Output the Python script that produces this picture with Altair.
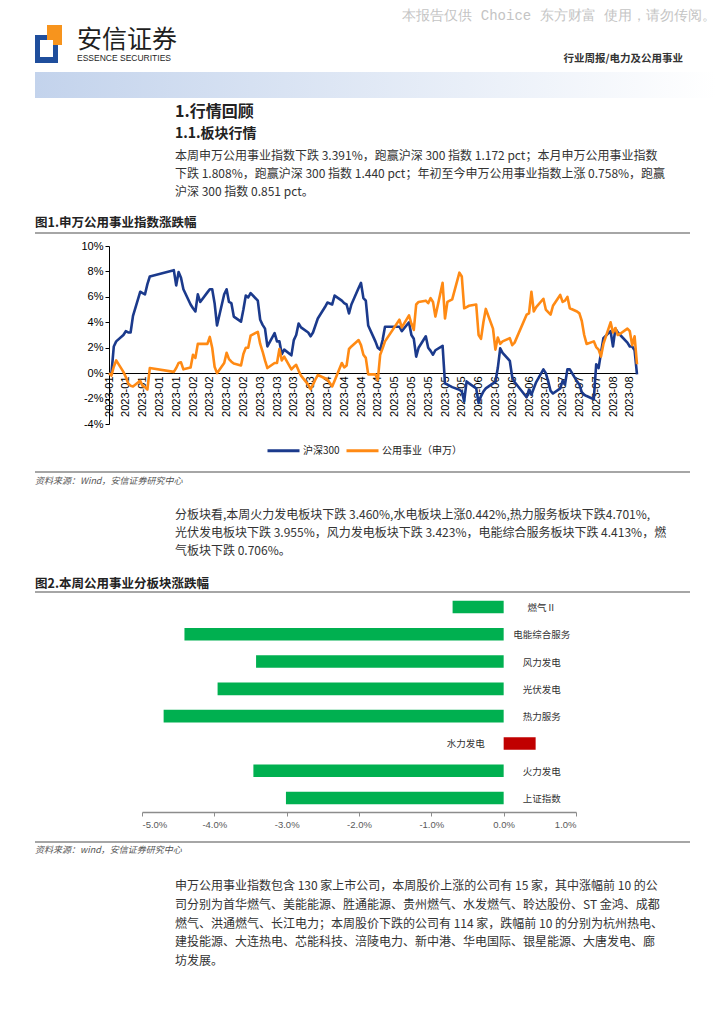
import altair as alt
import pandas as pd

CJK = "Noto Sans CJK SC"
LAT = "Liberation Sans"

# ---------------- line chart data ----------------
dates = [
    "2023-01-03", "2023-01-04", "2023-01-05", "2023-01-06", "2023-01-09", "2023-01-10", "2023-01-11",
    "2023-01-12", "2023-01-13", "2023-01-16", "2023-01-17", "2023-01-18", "2023-01-19", "2023-01-20",
    "2023-01-30", "2023-01-31", "2023-02-01", "2023-02-02", "2023-02-03", "2023-02-06", "2023-02-07",
    "2023-02-08", "2023-02-09", "2023-02-10", "2023-02-13", "2023-02-14", "2023-02-15", "2023-02-16",
    "2023-02-17", "2023-02-20", "2023-02-21", "2023-02-22", "2023-02-23", "2023-02-24", "2023-02-27",
    "2023-02-28", "2023-03-01", "2023-03-02", "2023-03-03", "2023-03-06", "2023-03-07", "2023-03-08",
    "2023-03-09", "2023-03-10", "2023-03-13", "2023-03-14", "2023-03-15", "2023-03-16", "2023-03-17",
    "2023-03-20", "2023-03-21", "2023-03-22", "2023-03-23", "2023-03-24", "2023-03-27", "2023-03-28",
    "2023-03-29", "2023-03-30", "2023-03-31", "2023-04-03", "2023-04-04", "2023-04-06", "2023-04-07",
    "2023-04-10", "2023-04-11", "2023-04-12", "2023-04-13", "2023-04-14", "2023-04-17", "2023-04-18",
    "2023-04-19", "2023-04-20", "2023-04-21", "2023-04-24", "2023-04-25", "2023-04-26", "2023-04-27",
    "2023-04-28", "2023-05-04", "2023-05-05", "2023-05-08", "2023-05-09", "2023-05-10", "2023-05-11",
    "2023-05-12", "2023-05-15", "2023-05-16", "2023-05-17", "2023-05-18", "2023-05-19", "2023-05-22",
    "2023-05-23", "2023-05-24", "2023-05-25", "2023-05-26", "2023-05-29", "2023-05-30", "2023-05-31",
    "2023-06-01", "2023-06-02", "2023-06-05", "2023-06-06", "2023-06-07", "2023-06-08", "2023-06-09",
    "2023-06-12", "2023-06-13", "2023-06-14", "2023-06-15", "2023-06-16", "2023-06-19", "2023-06-20",
    "2023-06-21", "2023-06-26", "2023-06-27", "2023-06-28", "2023-06-29", "2023-06-30", "2023-07-03",
    "2023-07-04", "2023-07-05", "2023-07-06", "2023-07-07", "2023-07-10", "2023-07-11", "2023-07-12",
    "2023-07-13", "2023-07-14", "2023-07-17", "2023-07-18", "2023-07-19", "2023-07-20", "2023-07-21",
    "2023-07-24", "2023-07-25", "2023-07-26", "2023-07-27", "2023-07-28", "2023-07-31", "2023-08-01",
    "2023-08-02", "2023-08-03", "2023-08-04", "2023-08-07", "2023-08-08", "2023-08-09", "2023-08-10",
    "2023-08-11",
]
hs300 = [
    0.0, -0.05, 2.1, 2.5, 3.0, 3.3, 3.2,
    3.2, 4.5, 6.4, 6.3, 6.2, 7.0, 7.6,
    8.1, 6.9, 7.95, 7.5, 6.6, 5.4, 5.1,
    4.85, 6.2, 5.6, 6.35, 6.6, 6.6, 5.5,
    3.75, 6.2, 6.6, 5.6, 5.5, 4.45, 4.05,
    5.0, 6.1, 5.95, 6.3, 5.7, 4.2, 3.8,
    3.5, 2.1, 3.15, 2.5, 2.5, 1.5, 1.85,
    1.4, 2.6, 3.0, 3.9, 3.6, 3.2, 2.9,
    3.2, 3.75, 4.3, 5.2, 5.55, 5.4, 6.1,
    5.7, 5.5, 5.4, 4.7, 5.4, 6.7, 7.1,
    5.9, 5.7, 3.75, 2.5, 2.0, 1.85, 2.6,
    3.65, 3.65, 3.3, 4.0, 3.0, 2.7, 1.3,
    2.0, 2.9, 2.0, 1.75, 1.45, 1.8, 2.15,
    -0.8, -0.9, -1.0, -1.1, -1.3, -1.45, -2.2,
    -0.65, -0.8, -1.2, -2.35, -1.8, -1.45, -1.2,
    -0.8, -0.7, 0.4, 1.95, 1.6, 0.97, -0.3,
    -0.7, -1.9, -1.3, -1.7, -1.2, -0.7, 0.3,
    0.0, -0.65, -1.4, -1.6, -1.2, -0.6, -0.9,
    0.3, 0.3, -0.65, -0.9, -1.5, -1.7, -1.8,
    -2.05, 0.7, 0.4, 1.6, 2.75, 3.3, 2.1,
    3.5, 3.2, 3.0, 2.4, 2.1, 2.1, 1.8,
    -0.1,
]
utility = [
    0.0, -0.2, 0.5, 1.0, 0.1, -0.3, -0.8,
    -1.0, -1.05, -0.6, -1.0, -1.1, -1.3, 0.4,
    0.1, 0.4, 0.8, 0.85, 0.3, 0.45, 1.45,
    1.2, 2.3, 2.3, 2.3, 2.85, 2.0, 0.5,
    0.0, 0.8, 1.6, 1.1, 0.9, 0.75, 0.6,
    1.5, 2.0, 2.0, 2.95, 3.25, 2.3, 1.7,
    1.0, 0.4, 0.8, 0.8, 1.9, 1.0, 1.3,
    0.3, 0.5, 0.65, 0.2, -0.2, -0.9, -1.25,
    -0.9, -0.5, -0.15, -0.4, -0.5, -1.05, -0.6,
    0.8, 0.45, 0.6, 1.9, 2.1, 2.6, 2.2,
    1.45, 1.2, -0.1, -0.1, -0.55, 1.45, 1.95,
    2.5, 4.2, 3.6, 4.55, 3.9, 3.4, 5.4,
    5.6, 5.7, 5.5, 5.9, 5.6, 4.45, 7.1,
    4.3, 5.6, 5.7, 5.8, 7.9, 7.6, 5.1,
    5.2, 5.3, 5.4, 3.0, 2.7, 4.0, 5.05,
    3.5, 1.85, 2.8, 2.3, 2.5, 2.75, 2.2,
    2.4, 4.6, 4.7, 6.4, 4.85, 5.2, 5.85,
    5.0, 4.8, 4.6, 5.3, 6.15, 5.6, 5.7,
    6.0, 5.1, 4.85, 4.7, 4.1, 3.0, 2.3,
    2.5, 2.05, 1.85, 1.3, 2.3, 4.0, 3.2,
    3.55, 3.0, 3.1, 3.5, 3.3, 2.2, 2.9,
    0.7,
]
series_names = ["沪深300", "公用事业（申万）"]
series_colors = ["#1B3A8C", "#FF8A14"]
tick_dates = [
    "2023-01-03", "2023-01-10", "2023-01-17", "2023-01-24", "2023-01-31",
    "2023-02-07", "2023-02-14", "2023-02-21", "2023-02-28",
    "2023-03-07", "2023-03-14", "2023-03-21", "2023-03-28",
    "2023-04-04", "2023-04-11", "2023-04-18", "2023-04-25",
    "2023-05-02", "2023-05-09", "2023-05-16", "2023-05-23", "2023-05-30",
    "2023-06-06", "2023-06-13", "2023-06-20", "2023-06-27",
    "2023-07-04", "2023-07-11", "2023-07-18", "2023-07-25",
    "2023-08-01", "2023-08-08",
]
y_ticks = [-4, -2, 0, 2, 4, 6, 8, 10]

# ---------------- bar chart data ----------------
sectors = ["燃气Ⅱ", "电能综合服务", "风力发电", "光伏发电", "热力服务", "水力发电", "火力发电", "上证指数"]
changes = [-0.706, -4.413, -3.423, -3.955, -4.701, 0.442, -3.460, -3.01]
bar_ticks = [-5, -4, -3, -2, -1, 0, 1]

# ---------------- page text ----------------
para1 = [
    "本周申万公用事业指数下跌 3.391%，跑赢沪深 300 指数 1.172 pct；本月申万公用事业指数",
    "下跌 1.808%，跑赢沪深 300 指数 1.440 pct；年初至今申万公用事业指数上涨 0.758%，跑赢",
    "沪深 300 指数 0.851 pct。",
]
para2 = [
    "分板块看,本周火力发电板块下跌 3.460%,水电板块上涨0.442%,热力服务板块下跌4.701%,",
    "光伏发电板块下跌 3.955%，风力发电板块下跌 3.423%，电能综合服务板块下跌 4.413%，燃",
    "气板块下跌 0.706%。",
]
para3 = [
    "申万公用事业指数包含 130 家上市公司，本周股价上涨的公司有 15 家，其中涨幅前 10 的公",
    "司分别为首华燃气、美能能源、胜通能源、贵州燃气、水发燃气、聆达股份、ST 金鸿、成都",
    "燃气、洪通燃气、长江电力；本周股价下跌的公司有 114 家，跌幅前 10 的分别为杭州热电、",
    "建投能源、大连热电、芯能科技、涪陵电力、新中港、华电国际、银星能源、大唐发电、廊",
    "坊发展。",
]

W = 708
dummy = pd.DataFrame({"k": [0]})


def dt(s):
    y, m, d = s.split("-")
    return alt.DateTime(year=int(y), month=int(m), date=int(d), utc=True)


def txt(x, y, s, size=12, weight="normal", color="#333333", align="left", font=CJK, style="normal"):
    return alt.Chart().mark_text(
        align=align, baseline="middle", fontSize=size, fontWeight=weight, color=color,
        font=font, fontStyle=style,
    ).encode(x=alt.value(x), y=alt.value(y), text=alt.value(s))


def rect(x, x2, y, y2, color):
    return alt.Chart().mark_rect(color=color).encode(
        x=alt.value(x), x2=alt.value(x2), y=alt.value(y), y2=alt.value(y2))


def hrule(x, x2, y, color="#a6a6a6", w=2):
    return alt.Chart().mark_rule(color=color, strokeWidth=w).encode(
        x=alt.value(x), x2=alt.value(x2), y=alt.value(y))


# ---------------- panel 1: header ----------------
grad = alt.LinearGradient(
    gradient="linear",
    stops=[alt.GradientStop(color="#c3d3ec", offset=0), alt.GradientStop(color="#ffffff", offset=1)],
    x1=0, x2=1, y1=0, y2=0,
)
p1_items = [
    txt(708, 8, "本报告仅供 Choice 东方财富 使用，请勿传阅。", size=14, color="#c4c4c4", align="right",
        font="Liberation Mono"),
    rect(27, 50, 27, 55, "#1f4e9c"),
    rect(32, 45, 32, 49, "#ffffff"),
    rect(39, 54, 17, 37, "#f7941d"),
    rect(39, 45, 32, 37, "#ffffff"),
    txt(69, 32, "安信证券", size=25, color="#1e1e1e"),
    txt(69, 50, "ESSENCE SECURITIES", size=8.5, color="#1e1e1e", font=LAT),
    txt(675, 51, "行业周报/电力及公用事业", size=10.5, weight="bold", color="#333333", align="right"),
    alt.Chart().mark_rect(color=grad).encode(
        x=alt.value(27), x2=alt.value(708), y=alt.value(64), y2=alt.value(90)),
    txt(167, 104, "1.行情回顾", size=16, weight="bold", color="#222222"),
    txt(167, 126, "1.1.板块行情", size=14, weight="bold", color="#222222"),
]
for i, line in enumerate(para1):
    p1_items.append(txt(167, 148 + 18 * i, line, size=12))
p1_items += [
    txt(27, 215, "图1.申万公用事业指数涨跌幅", size=12.5, weight="bold", color="#222222"),
    hrule(27, 682, 225),
]
panel1 = alt.layer(*p1_items, data=dummy).properties(width=W, height=238)

# ---------------- panel 2: line chart ----------------
n = len(dates)
line_df = pd.DataFrame({
    "date": dates * 2,
    "value": hs300 + utility,
    "series": [series_names[0]] * n + [series_names[1]] * n,
})
line_chart = alt.Chart(line_df).mark_line(strokeWidth=2.6, strokeJoin="round").encode(
    x=alt.X(
        "date:T",
        scale=alt.Scale(type="utc", domain=[dt(dates[0]), dt(dates[-1])], range=[101, 629]),
        axis=alt.Axis(
            values=[dt(s) for s in tick_dates],
            labelExpr="utcFormat(datum.value, '%Y-%m')",
            labelAngle=-90, offset=-51, title=None, grid=False, ticks=False,
            domainColor="#000000", domainWidth=1, labelFont=LAT, labelFontSize=11,
            labelColor="#000000", labelPadding=3, labelOverlap=False, labelBound=False,
        ),
    ),
    y=alt.Y(
        "value:Q",
        scale=alt.Scale(domain=[-4, 10], nice=False),
        axis=alt.Axis(
            values=y_ticks, labelExpr="datum.value + '%'", offset=-101, title=None, grid=False,
            tickSize=4, tickColor="#000000", domainColor="#000000", labelFont=LAT,
            labelFontSize=11, labelColor="#000000", labelPadding=2,
        ),
    ),
    color=alt.Color(
        "series:N",
        scale=alt.Scale(domain=series_names, range=series_colors),
        legend=alt.Legend(
            orient="none", legendX=258, legendY=425, direction="horizontal", title=None,
            symbolType="stroke", symbolSize=1024, symbolStrokeWidth=3, labelFont=CJK,
            labelFontSize=10, labelColor="#222222", labelOffset=2, columnPadding=0,
        ),
    ),
).properties(width=W, height=178)

# ---------------- panel 3 ----------------
p3_items = [
    hrule(27, 682, 48),
    txt(27, 57, "资料来源：Wind，安信证券研究中心", size=9, color="#555555", style="italic"),
]
for i, line in enumerate(para2):
    p3_items.append(txt(167, 91 + 18 * i, line, size=12))
p3_items += [
    txt(27, 160, "图2.本周公用事业分板块涨跌幅", size=12.5, weight="bold", color="#222222"),
    hrule(27, 682, 168),
]
panel3 = alt.layer(*p3_items, data=dummy).properties(width=W, height=169)

# ---------------- panel 4: bar chart ----------------
bar_df = pd.DataFrame({"cat": sectors, "chg": changes})
ysc = alt.Y("cat:N", sort=None, scale=alt.Scale(paddingInner=0.54, paddingOuter=0.285), axis=None)
bars = alt.Chart().mark_bar().encode(
    y=ysc,
    x=alt.X(
        "chg:Q",
        scale=alt.Scale(domain=[-5, 1], range=[134, 568], nice=False, zero=True),
        axis=alt.Axis(
            values=bar_ticks,
            labelExpr="(datum.value < 0 ? '-' : '') + format(abs(datum.value), '.1f') + '%'",
            title=None, grid=False, tickSize=4, tickColor="#8c8c8c", domainColor="#8c8c8c",
            domainWidth=1.5, labelFont=LAT, labelFontSize=9.5, labelColor="#595959", labelPadding=3,
        ),
    ),
    color=alt.condition("datum.chg > 0", alt.value("#C00000"), alt.value("#00B050")),
)
lab_neg = alt.Chart().transform_filter("datum.chg <= 0").mark_text(
    align="center", baseline="middle", dx=38, dy=1, fontSize=9.5, font=CJK, color="#333333"
).encode(y=ysc, x=alt.datum(0), text="cat:N")
lab_pos = alt.Chart().transform_filter("datum.chg > 0").mark_text(
    align="center", baseline="middle", dx=-38, dy=1, fontSize=9.5, font=CJK, color="#333333"
).encode(y=ysc, x=alt.datum(0), text="cat:N")
panel4 = alt.layer(bars, lab_neg, lab_pos, data=bar_df).properties(width=W, height=219)

# ---------------- panel 5 ----------------
p5_items = [
    hrule(27, 682, 30),
    txt(27, 38, "资料来源：wind，安信证券研究中心", size=9, color="#555555", style="italic"),
]
for i, line in enumerate(para3):
    p5_items.append(txt(167, 74 + 18.8 * i, line, size=12))
panel5 = alt.layer(*p5_items, data=dummy).properties(width=W, height=204)

chart = alt.vconcat(
    panel1, line_chart, panel3, panel4, panel5, spacing=0, bounds="flush"
).properties(padding=0, background="#ffffff").configure_view(stroke=None)

chart.save("out.html", embed_options={"renderer": "svg", "actions": False})
